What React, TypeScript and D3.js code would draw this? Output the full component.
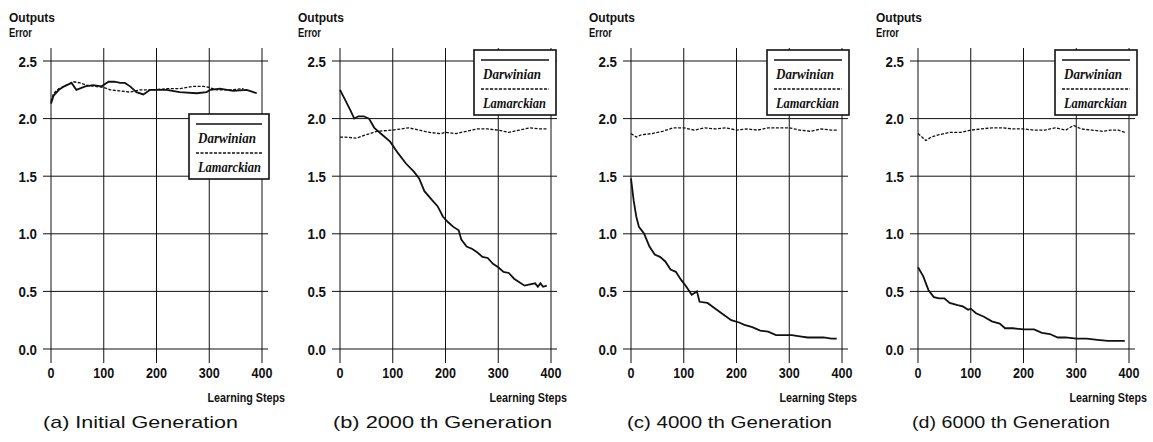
import React from "react";
import * as d3 from "d3";

// ---------- data ----------
const panelTitles = [
  "(a) Initial Generation",
  "(b) 2000 th Generation",
  "(c) 4000 th Generation",
  "(d) 6000 th Generation",
];
const xTicks = [0, 100, 200, 300, 400];
const yTicks = [0.0, 0.5, 1.0, 1.5, 2.0, 2.5];
const seriesNames = ["Darwinian", "Lamarckian"];

// (a) Initial Generation
const aDarwinSteps = [0, 5, 15, 25, 39, 48, 65, 80, 96, 109, 120, 131, 140, 150, 162, 175, 188, 219, 244, 276, 295, 302, 320, 345, 371, 390];
const aDarwinErr = [2.13, 2.2, 2.25, 2.28, 2.31, 2.25, 2.28, 2.29, 2.28, 2.32, 2.32, 2.31, 2.31, 2.28, 2.23, 2.21, 2.25, 2.25, 2.23, 2.22, 2.23, 2.25, 2.26, 2.24, 2.25, 2.22];
const aLamarckSteps = [0, 5, 15, 25, 42, 55, 67, 83, 100, 112, 130, 150, 169, 194, 219, 245, 270, 289, 300, 314, 340, 365];
const aLamarckErr = [2.15, 2.22, 2.26, 2.28, 2.32, 2.31, 2.29, 2.28, 2.27, 2.25, 2.24, 2.23, 2.25, 2.25, 2.26, 2.26, 2.28, 2.28, 2.27, 2.25, 2.25, 2.26];

// (b) 2000 th Generation
const bDarwinSteps = [0, 10, 20, 27, 35, 45, 55, 65, 80, 95, 110, 125, 140, 150, 160, 175, 185, 195, 205, 215, 225, 230, 240, 250, 260, 270, 280, 290, 300, 310, 320, 330, 340, 350, 360, 370, 375, 380, 385, 392];
const bDarwinErr = [2.25, 2.16, 2.07, 2.0, 2.02, 2.02, 2.0, 1.92, 1.86, 1.8, 1.7, 1.61, 1.54, 1.48, 1.37, 1.29, 1.24, 1.15, 1.1, 1.06, 1.03, 0.95, 0.89, 0.87, 0.84, 0.8, 0.79, 0.74, 0.71, 0.67, 0.66, 0.61, 0.58, 0.55, 0.56, 0.57, 0.54, 0.57, 0.54, 0.55];
const bLamarckSteps = [0, 10, 30, 50, 70, 100, 130, 150, 170, 190, 200, 220, 240, 260, 280, 300, 320, 340, 360, 380, 392];
const bLamarckErr = [1.84, 1.84, 1.83, 1.86, 1.89, 1.9, 1.92, 1.9, 1.88, 1.87, 1.88, 1.87, 1.89, 1.91, 1.91, 1.9, 1.88, 1.9, 1.92, 1.91, 1.91];

// (c) 4000 th Generation
const cDarwinSteps = [0, 5, 10, 15, 25, 35, 45, 55, 65, 75, 85, 95, 105, 115, 125, 130, 145, 160, 175, 190, 205, 215, 230, 245, 260, 275, 290, 305, 320, 335, 350, 365, 380, 390];
const cDarwinErr = [1.48, 1.29, 1.15, 1.06, 1.0, 0.89, 0.82, 0.8, 0.76, 0.69, 0.67, 0.6, 0.54, 0.47, 0.5, 0.41, 0.4, 0.35, 0.3, 0.25, 0.23, 0.21, 0.19, 0.16, 0.15, 0.12, 0.12, 0.12, 0.11, 0.1, 0.1, 0.1, 0.09, 0.09];
const cLamarckSteps = [0, 10, 20, 40, 60, 80, 100, 120, 140, 160, 180, 200, 220, 240, 260, 280, 300, 320, 340, 360, 380, 392];
const cLamarckErr = [1.87, 1.84, 1.86, 1.87, 1.89, 1.92, 1.92, 1.9, 1.92, 1.91, 1.92, 1.9, 1.91, 1.9, 1.92, 1.92, 1.92, 1.9, 1.89, 1.91, 1.9, 1.9];

// (d) 6000 th Generation
const dDarwinSteps = [0, 10, 15, 20, 30, 40, 50, 60, 75, 85, 95, 100, 110, 125, 140, 155, 165, 180, 200, 220, 235, 250, 265, 280, 300, 320, 340, 360, 380, 392];
const dDarwinErr = [0.71, 0.63, 0.57, 0.51, 0.45, 0.44, 0.44, 0.4, 0.38, 0.37, 0.34, 0.35, 0.31, 0.28, 0.24, 0.22, 0.18, 0.18, 0.17, 0.17, 0.14, 0.13, 0.1, 0.1, 0.09, 0.09, 0.08, 0.07, 0.07, 0.07];
const dLamarckSteps = [0, 10, 15, 25, 40, 60, 80, 100, 120, 140, 160, 180, 200, 220, 240, 260, 280, 295, 310, 330, 350, 365, 380, 392];
const dLamarckErr = [1.87, 1.83, 1.81, 1.84, 1.86, 1.88, 1.88, 1.9, 1.91, 1.92, 1.92, 1.91, 1.91, 1.9, 1.9, 1.92, 1.9, 1.94, 1.91, 1.9, 1.89, 1.9, 1.9, 1.88];

const panelData = [
  { d: [aDarwinSteps, aDarwinErr], l: [aLamarckSteps, aLamarckErr] },
  { d: [bDarwinSteps, bDarwinErr], l: [bLamarckSteps, bLamarckErr] },
  { d: [cDarwinSteps, cDarwinErr], l: [cLamarckSteps, cLamarckErr] },
  { d: [dDarwinSteps, dDarwinErr], l: [dLamarckSteps, dLamarckErr] },
];

// ---------- layout ----------
const W = 1153;
const H = 442;
const panelX0 = [51, 340, 631, 918];
const plotW = 211;
const yTop = 61;
const yBottom = 349;
const legendPos = [
  { x: 189, y: 114, w: 80 },
  { x: 474, y: 50, w: 82 },
  { x: 767, y: 50, w: 82 },
  { x: 1055, y: 50, w: 82 },
];
const titleX = [43, 333, 627, 912];
const titleW = [195, 219, 205, 198];
const stepsLabelRight = [285, 567, 857, 1147];

const narrow = "'Liberation Sans', Arial, Helvetica, sans-serif";
const sans = "'Liberation Sans', Arial, Helvetica, sans-serif";
const serif = "'Liberation Serif', 'Times New Roman', serif";
const ink = "#111";

// width of a condensed bold number label
const labelWidth = (s: string) =>
  s.split("").reduce((w, c) => w + (c === "." ? 4.5 : 7), 0);

function Panel({ i }: { i: number }) {
  const x0 = panelX0[i];
  const x = d3.scaleLinear().domain([0, 400]).range([x0, x0 + plotW]);
  const y = d3.scaleLinear().domain([0, 2.5]).range([yBottom, yTop]);
  const line = d3
    .line<[number, number]>()
    .x((p) => x(p[0]))
    .y((p) => y(p[1]));
  const pd = panelData[i];
  const dPts = pd.d[0].map((s, k) => [s, pd.d[1][k]] as [number, number]);
  const lPts = pd.l[0].map((s, k) => [s, pd.l[1][k]] as [number, number]);
  const lg = legendPos[i];
  return (
    <g>
      {/* grid */}
      {yTicks.map((t) => (
        <line key={"h" + t} x1={x0 - 8} x2={x0 + plotW + 6} y1={y(t)} y2={y(t)} stroke={ink} strokeWidth={1} />
      ))}
      {xTicks.map((t) => (
        <line key={"v" + t} x1={x(t)} x2={x(t)} y1={yTop - 13} y2={yBottom + 14} stroke={ink} strokeWidth={1} />
      ))}
      {/* y tick labels */}
      {yTicks.map((t) => {
        const s = t.toFixed(1);
        return (
          <text key={"yl" + t} x={x0 - 14} y={y(t) + 5.5} textAnchor="end" fontFamily={narrow} fontWeight="bold" fontSize={15.5} fill={ink} textLength={labelWidth(s)} lengthAdjust="spacingAndGlyphs">
            {s}
          </text>
        );
      })}
      {/* x tick labels */}
      {xTicks.map((t) => {
        const s = String(t);
        return (
          <text key={"xl" + t} x={x(t)} y={378} textAnchor="middle" fontFamily={narrow} fontWeight="bold" fontSize={15.5} fill={ink} textLength={labelWidth(s)} lengthAdjust="spacingAndGlyphs">
            {s}
          </text>
        );
      })}
      {/* axis titles */}
      <text x={x0 - 42} y={22} fontFamily={narrow} fontWeight="bold" fontSize={13.5} fill={ink} textLength={46} lengthAdjust="spacingAndGlyphs">Outputs</text>
      <text x={x0 - 42} y={37} fontFamily={narrow} fontWeight="bold" fontSize={13.5} fill={ink} textLength={23} lengthAdjust="spacingAndGlyphs">Error</text>
      <text transform={`translate(${stepsLabelRight[i]},402) scale(0.86,1)`} textAnchor="end" fontFamily={narrow} fontWeight="bold" fontSize={12.5} fill={ink}>Learning Steps</text>
      {/* series */}
      <path d={line(lPts) || ""} fill="none" stroke={ink} strokeWidth={1.3} strokeDasharray="3,1.5" />
      <path d={line(dPts) || ""} fill="none" stroke={ink} strokeWidth={1.8} />
      {/* legend */}
      <rect x={lg.x} y={lg.y} width={lg.w} height={65} fill="#fff" stroke={ink} strokeWidth={1.6} />
      <line x1={lg.x + 7} x2={lg.x + lg.w - 7} y1={lg.y + 10} y2={lg.y + 10} stroke={ink} strokeWidth={1.6} />
      <text x={lg.x + 9} y={lg.y + 29} fontFamily={serif} fontStyle="italic" fontWeight="bold" fontSize={15} fill={ink} textLength={58} lengthAdjust="spacingAndGlyphs">{seriesNames[0]}</text>
      <line x1={lg.x + 7} x2={lg.x + lg.w - 7} y1={lg.y + 39} y2={lg.y + 39} stroke={ink} strokeWidth={1.3} strokeDasharray="3,1.5" />
      <text x={lg.x + 9} y={lg.y + 58} fontFamily={serif} fontStyle="italic" fontWeight="bold" fontSize={15} fill={ink} textLength={63} lengthAdjust="spacingAndGlyphs">{seriesNames[1]}</text>
      {/* panel title */}
      <text x={titleX[i]} y={428} fontFamily={sans} fontSize={17} fill={ink} textLength={titleW[i]} lengthAdjust="spacingAndGlyphs">{panelTitles[i]}</text>
    </g>
  );
}

export default function App() {
  return (
    <svg width={W} height={H} style={{ position: "absolute", left: 0, top: 0, background: "#fff" }}>
      <rect x={0} y={0} width={W} height={H} fill="#fff" />
      {panelTitles.map((_, i) => (
        <Panel key={i} i={i} />
      ))}
    </svg>
  );
}
